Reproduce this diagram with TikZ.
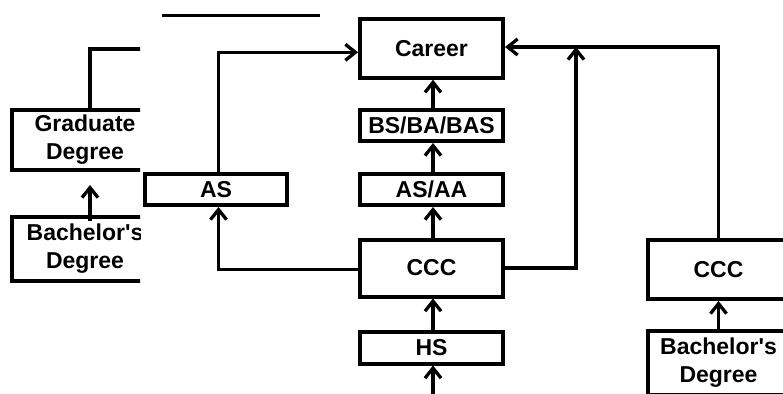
\documentclass[tikz,border=0pt]{standalone}
\usepackage{fontspec}
\newfontfamily\lsans{Liberation Sans}
\usetikzlibrary{arrows.meta}
\begin{document}
\begin{tikzpicture}[x=1pt,y=-1pt,
 box/.style={draw,line width=4pt,inner sep=0pt,align=center,fill=white,
   font=\lsans\bfseries\fontsize{23}{28}\selectfont},
 conn/.style={line width=3.3pt},
 arr/.style={conn,-{Straight Barb[length=10pt,width=16pt]}}]
\useasboundingbox (0,0) rectangle (783,393);
\clip (0,0) rectangle (783,393);
% top stray line
\coordinate (t1) at (162,15.5);
\coordinate (t2) at (320,15.5);
\draw[line width=3.5pt] (t1) -- (t2);
% centre column
\node[box,minimum width=143pt,minimum height=59pt] (career) at (431.5,48.3) {Career};
\node[box,minimum width=143pt,minimum height=31pt] (bs) at (431.5,125.5) {BS/BA/BAS};
\node[box,minimum width=143pt,minimum height=31pt] (asaa) at (431.5,189.5) {AS/AA};
\node[box,minimum width=143pt,minimum height=57pt] (ccc) at (431.5,268) {CCC};
\node[box,minimum width=143pt,minimum height=32pt] (hs) at (431.5,347.5) {HS};
\coordinate (hsin) at (433,395);
% AS box
\node[box,minimum width=142pt,minimum height=31pt] (as) at (216,189.5) {AS};
% right column
\node[box,minimum width=142pt,minimum height=59pt] (rccc) at (718.5,269.5) {CCC};
\node[box,minimum width=142pt,minimum height=64pt] (rbach) at (718.5,363) {Bachelor's\\Degree};
\coordinate (j) at (576,47);
% centre arrows
\draw[arr] ([xshift=1.5pt]bs.north) -- ([xshift=1.5pt]career.south);
\draw[arr] ([xshift=1.5pt]asaa.north) -- ([xshift=1.5pt]bs.south);
\draw[arr] ([xshift=1.5pt]ccc.north) -- ([xshift=1.5pt]asaa.south);
\draw[arr] ([xshift=1.5pt]hs.north) -- ([xshift=1.5pt]ccc.south);
\draw[arr] (hsin) -- ([xshift=1.5pt]hs.south);
% AS connections
\draw[arr] ([xshift=2.5pt]as.north) |- ([yshift=-4pt]career.west);
\draw[arr] ([yshift=-1.5pt]ccc.west) -| ([xshift=2.5pt]as.south);
% right connections
\draw[arr] (ccc.east) -| (j);
\draw[arr] (rccc.north) |- ([yshift=1.3pt]career.east);
\draw[arr] (rbach.north) -- (rccc.south);
% left clipped part
\begin{scope}
\clip (0,0) rectangle (140,393);
\node[box,minimum width=146pt,minimum height=60pt] (grad) at (85,140) {Graduate\\Degree};
\node[box,minimum width=146pt,minimum height=64pt] (lbach) at (85,249) {Bachelor's\\Degree};
\coordinate (gend) at (150,49);
\draw[conn] ([xshift=5pt]grad.north) |- (gend);
\draw[arr] ([xshift=5pt,yshift=-6pt]lbach.north) -- ([xshift=5pt,yshift=-13pt]grad.south);
\end{scope}
\end{tikzpicture}
\end{document}
